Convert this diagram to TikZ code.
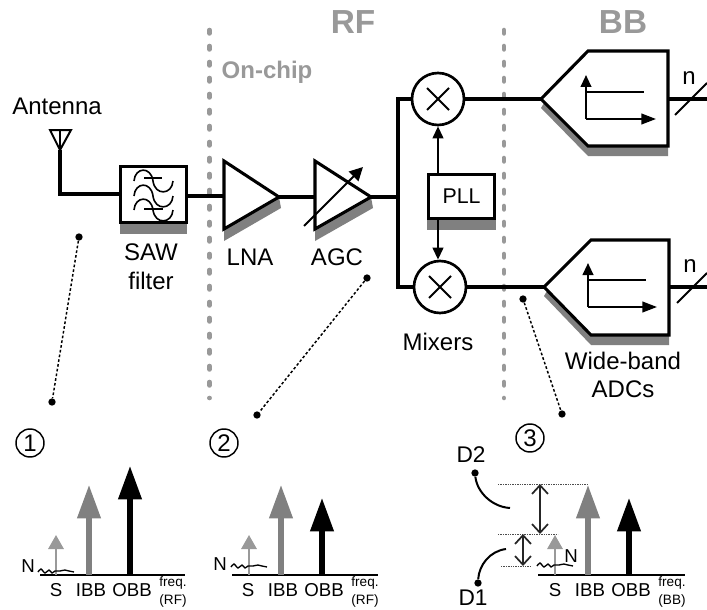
\documentclass[tikz,border=0pt]{standalone}
\usepackage{fontspec}
\setmainfont{Liberation Sans}
\usetikzlibrary{arrows.meta}
\definecolor{shadowgray}{gray}{0.5}
\definecolor{linegray}{gray}{0.6}
\tikzset{
	wire/.style={line width=2.3pt},
	thinwire/.style={line width=1.5pt},
	shadowfill/.style={fill=shadowgray, draw=none},
	lbl/.style={inner sep=0pt, align=center, font=\fontsize{18}{21.5}\selectfont},
	speclbl/.style={inner sep=0pt, align=center, font=\fontsize{14}{18}\selectfont},
	smalltext/.style={inner sep=0pt, align=center, font=\fontsize{10.2}{13.5}\selectfont},
	headtext/.style={inner sep=0pt, text=linegray, font=\bfseries\fontsize{25}{27}\selectfont},
	fence/.style={linegray, line width=3.4pt, line cap=round, dash pattern=on 2.6pt off 9.4pt},
	probe/.style={black, line width=1.1pt, dash pattern=on 2pt off 1.6pt},
	probedot/.style={circle, fill=black, inner sep=0pt, minimum size=5.5pt},
	numbered/.style={circle, draw, line width=1.1pt, inner sep=0pt, minimum size=21pt, font=\fontsize{18}{20}\selectfont},
	mixer/.style={circle, draw, line width=2pt, fill=white, inner sep=0pt, minimum size=39pt},
	weakarrow/.style={draw=linegray, line width=1.5pt, -{Triangle[length=10.5pt,width=11.5pt]}},
	midarrow/.style={draw=shadowgray, line width=3.8pt, -{Triangle[length=25pt,width=17pt]}},
	strongarrow/.style={draw=black, line width=3.8pt, -{Triangle[length=25pt,width=17pt]}},
	gaparrow/.style={line width=1.3pt, draw=black!85, {Straight Barb[length=6.5pt,width=12pt]}-{Straight Barb[length=6.5pt,width=12pt]}},
	levelline/.style={line width=0.7pt, black!70, dash pattern=on 1pt off 0.8pt},
	noise/.pic={\draw[line width=1pt] plot[smooth] coordinates {(0,-1) (3,-4) (7,0) (11,-3) (14,0) (17,-2) (22,-2) (27,-3) (31,-2) (36,-1)};}
}
\begin{document}
\begin{tikzpicture}[x=0.75pt, y=-0.75pt]
	\useasboundingbox (0,0) rectangle (707,610);
	% domains
	\draw[fence] (209.5,30)--(209.5,398);
	\draw[fence] (504,30)--(504,398);
	\node[headtext] (rf) at (353,22) {RF};
	\node[headtext] (bb) at (623,22) {BB};
	\node[inner sep=0pt, text=linegray, font=\bfseries\fontsize{18}{20}\selectfont] (onchip) at (267,72) {On-chip};

	% antenna and filter
	\coordinate (ant) at (60,150);
	\coordinate (antcorner) at (60,194);
	\draw[thinwire] (50,130)--(71,130)--(ant)--cycle;
	\draw[thinwire] (60,130)--(ant);
	\node[lbl] (antlabel) at (57,106) {Antenna};
	\fill[shadowfill] (120,223) rectangle (187,234);
	\node[draw, wire, fill=white, minimum width=50pt, minimum height=42.5pt, inner sep=0pt] (saw) at (153.5,194.5) {};
	\draw[line width=1.2pt] (134,181) .. controls (135,167) and (151,166) .. (153,181) .. controls (155,196) and (172,195) .. (173,181);
	\draw[line width=1.2pt] (134,196) .. controls (135,182) and (151,181) .. (153,196) .. controls (155,211) and (172,210) .. (173,196);
	\draw[line width=1.2pt] (134,210) .. controls (135,196) and (151,195) .. (153,210) .. controls (155,225) and (172,224) .. (173,210);
	\draw[line width=1.2pt] (144,178)--(162,178);
	\draw[line width=1.2pt] (144,209)--(163,209);
	\draw[wire] (ant)--(antcorner)--(saw.west |- antcorner);
	\node[lbl] (sawlabel) at (151,267) {SAW\\filter};

	% LNA and AGC
	\coordinate (lnain) at (224,196);
	\coordinate (lnaout) at (279,197);
	\coordinate (agcin) at (315,197);
	\coordinate (agcout) at (371,197);
	\coordinate (split) at (398,197);
	\fill[shadowfill] (224,229)--(224,241)--(281,208)--(279,197)--cycle;
	\fill[shadowfill] (315,229)--(315,241)--(373,208)--(371,197)--cycle;
	\draw[wire, fill=white, line join=miter] (224,161)--(224,229)--(lnaout)--cycle;
	\draw[wire, fill=white, line join=miter] (315,161)--(315,229)--(agcout)--cycle;
	\draw[thinwire, -{Triangle[length=10pt,width=10pt]}] (304,226)--(363,167);
	\draw[wire] (saw.east |- lnain)--(lnain);
	\draw[wire] (lnaout)--(agcin);
	\draw[wire] (agcout)--(split);
	\node[lbl] (lnalabel) at (250,257) {LNA};
	\node[lbl] (agclabel) at (337,257) {AGC};

	% mixers and PLL
	\node[mixer] (mixa) at (438,99) {};
	\node[mixer] (mixb) at (440,287) {};
	\draw[thinwire] (427,88)--(449,110);
	\draw[thinwire] (449,88)--(427,110);
	\draw[thinwire] (429,276)--(451,298);
	\draw[thinwire] (451,276)--(429,298);
	\draw[wire] (mixa.west)--(398,99)--(398,287)--(mixb.west);
	\fill[shadowfill] (427,219) rectangle (496,230);
	\node[draw, wire, fill=white, minimum width=50pt, minimum height=33.5pt, inner sep=0pt, font=\fontsize{16}{18}\selectfont] (pll) at (461.5,196.5) {PLL};
	\draw[thinwire, -{Triangle[length=9pt,width=8pt]}] (pll.north -| mixa)--(mixa.south);
	\draw[thinwire, -{Triangle[length=9pt,width=8pt]}] (pll.south -| mixa)--(mixa |- mixb.north);
	\node[lbl] (mixlabel) at (438,342) {Mixers};

	% ADCs
	\coordinate (adca) at (541,99);
	\coordinate (adcb) at (544,287);
	\coordinate (outa) at (668,99);
	\coordinate (outb) at (669,287);
	\coordinate (enda) at (707,99);
	\coordinate (endb) at (707,287);
	\fill[shadowfill] (541,108)--(588,156)--(668,156)--(668,146)--(588,146)--(544,103)--cycle;
	\fill[shadowfill] (544,296)--(591,345)--(669,345)--(669,335)--(591,335)--(547,291)--cycle;
	\draw[wire, line join=miter] (adca)--(588,51)--(668,51)--(668,146)--(588,146)--cycle;
	\draw[wire, line join=miter] (adcb)--(591,240)--(669,240)--(669,335)--(591,335)--cycle;
	\draw[thinwire, -{Triangle[length=9pt,width=8pt]}] (586,119)--(586,75);
	\draw[thinwire, -{Triangle[length=11pt,width=8pt]}] (586,119)--(656,119);
	\draw[line width=1.8pt] (586,92)--(644,92);
	\draw[thinwire, -{Triangle[length=9pt,width=8pt]}] (588,307)--(588,263);
	\draw[thinwire, -{Triangle[length=11pt,width=8pt]}] (588,307)--(657,307);
	\draw[line width=1.8pt] (588,280)--(646,280);
	\draw[wire] (mixa.east)--(adca);
	\draw[wire] (mixb.east)--(adcb);
	\draw[wire] (outa)--(enda);
	\draw[wire] (outb)--(endb);
	\draw[thinwire] (675,115)--(707,83);
	\draw[thinwire] (677,303)--(707,273);
	\node[lbl] (na) at (689,78) {n};
	\node[lbl] (nb) at (690,266) {n};
	\node[lbl] (adclabel) at (623,375) {Wide-band\\ADCs};

	% probes
	\node[probedot] (pa) at (79,237) {};
	\node[probedot] (pb) at (52,402) {};
	\node[probedot] (pc) at (367,278) {};
	\node[probedot] (pd) at (257,415) {};
	\node[probedot] (pe) at (523,299) {};
	\node[probedot] (pf) at (562,414) {};
	\draw[probe] (pa)--(pb);
	\draw[probe] (pc)--(pd);
	\draw[probe] (pe)--(pf);
	\node[numbered] (numa) at (30,443) {1};
	\node[numbered] (numb) at (224,443) {2};
	\node[numbered] (numc) at (530,438) {3};

	% spectrum 1
	\draw[line width=1.2pt] (40,575)--(185,575);
	\draw[weakarrow] (56,575)--(56,535);
	\draw[midarrow] (89,575)--(89,485);
	\draw[strongarrow] (130,575)--(130,466);
	\pic at (38,573) {noise};
	\node[speclbl] (na1) at (28,566) {N};
	\node[speclbl] (sa1) at (56,590) {S};
	\node[speclbl] (ia1) at (91,590) {IBB};
	\node[speclbl] (oa1) at (132,590) {OBB};
	\node[smalltext] (fa1) at (173,592) {freq.\\(RF)};

	% spectrum 2
	\draw[line width=1.2pt] (232,575)--(378,575);
	\draw[weakarrow] (249,575)--(249,535);
	\draw[midarrow] (281,575)--(281,485);
	\draw[strongarrow] (322,575)--(322,498);
	\pic at (231,568) {noise};
	\node[speclbl] (na2) at (220,564) {N};
	\node[speclbl] (sa2) at (248,590) {S};
	\node[speclbl] (ia2) at (283,590) {IBB};
	\node[speclbl] (oa2) at (324,590) {OBB};
	\node[smalltext] (fa2) at (365,592) {freq.\\(RF)};

	% spectrum 3
	\draw[line width=1.2pt] (538,575)--(685,575);
	\draw[weakarrow] (555,575)--(555,535);
	\draw[midarrow] (588,575)--(588,485);
	\draw[strongarrow] (629,575)--(629,498);
	\pic at (537,567) {noise};
	\node[speclbl] (na3) at (571,556) {N};
	\node[speclbl] (sa3) at (555,590) {S};
	\node[speclbl] (ia3) at (590,590) {IBB};
	\node[speclbl] (oa3) at (631,590) {OBB};
	\node[smalltext] (fa3) at (672,592) {freq.\\(BB)};
	\draw[levelline] (498,484)--(589,484);
	\draw[levelline] (498,534)--(558,534);
	\draw[levelline] (501,566)--(530,566);
	\draw[gaparrow] (540,484)--(540,534);
	\draw[gaparrow] (523,534)--(523,566);
	\node[lbl, font=\fontsize{17}{20}\selectfont] (dtwo) at (471,455) {D2};
	\node[lbl, font=\fontsize{17}{20}\selectfont] (done) at (473,598) {D1};
	\node[probedot] (dtwodot) at (475,473) {};
	\node[probedot] (donedot) at (478,583) {};
	\coordinate (dtwoend) at (510,508);
	\coordinate (doneend) at (506,549);
	\draw[thinwire] (dtwodot) .. controls (477,492) and (492,507) .. (dtwoend);
	\draw[thinwire] (donedot) .. controls (479,565) and (490,551) .. (doneend);
\end{tikzpicture}
\end{document}
